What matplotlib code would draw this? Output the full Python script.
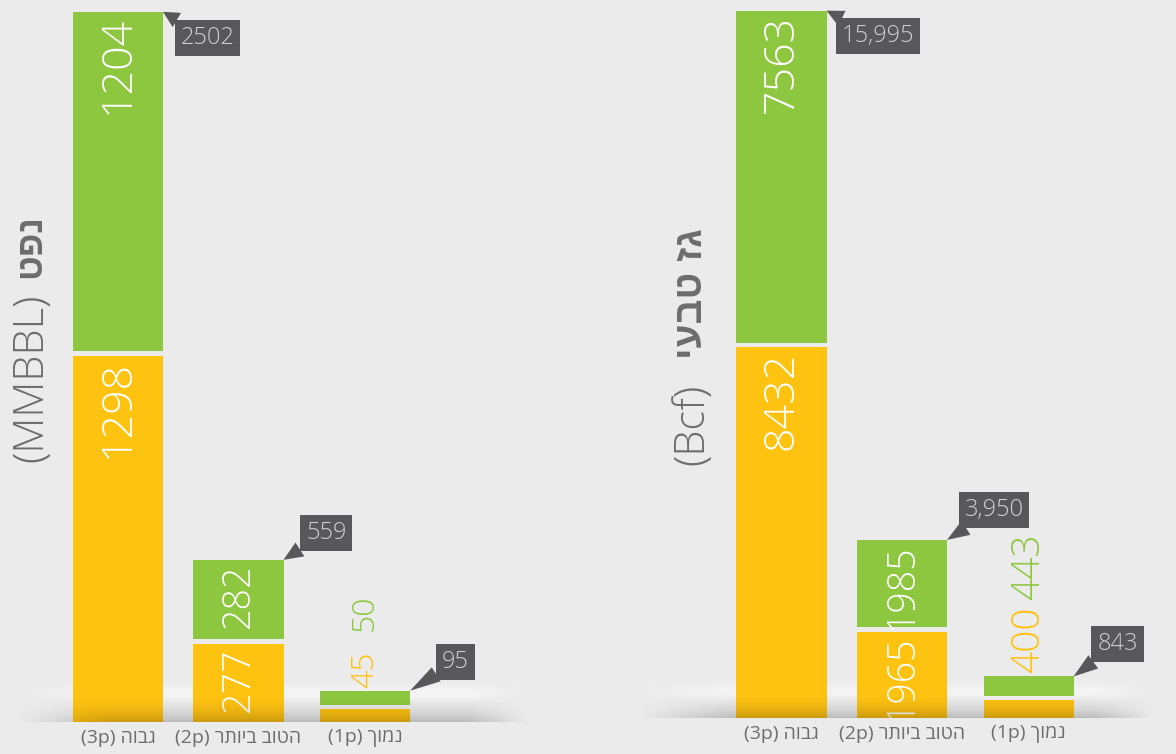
import numpy as np
import matplotlib
matplotlib.use('Agg')
import matplotlib.pyplot as plt

# data
tiers_he = ['גבוה', 'הטוב ביותר', 'נמוך']
tiers_tag = ['(3p)', '(2p)', '(1p)']

oil_orange = [1298, 277, 45]
oil_green = [1204, 282, 50]
oil_total = [2502, 559, 95]

gas_orange = [8432, 1965, 400]
gas_green = [7563, 1985, 443]
gas_total = [15995, 3950, 843]

oil_label = ('(MMBBL)', 'נפט')
gas_label = ('(Bcf)', 'גז טבעי')

# style / layout
W, H = 1176, 754
PT = 0.72
BG = '#ebebeb'
ORANGE = '#fec211'
GREEN = '#8dc63f'
BOX = '#58585a'
GREY = '#6d6d6d'
NUM = dict(family=['Open Sans', 'DejaVu Sans'], weight='light')
HEB = ['Liberation Sans', 'DejaVu Sans']
xpos = np.array([0, 1, 2.05])
bar_w = 0.747
unit = 120.5


def visual(tag, heb):
    # matplotlib has no bidi, so hebrew goes in visual order
    return tag + ' ' + heb[::-1]


def make_axes(center0, xlim, base_px):
    left = center0 + xlim[0] * unit
    right = center0 + xlim[1] * unit
    ax = fig.add_axes([left / W, (H - base_px) / H, (right - left) / W, base_px / H])
    ax.set_facecolor('none')
    for s in ax.spines.values():
        s.set_visible(False)
    ax.set_yticks([])
    return ax


def floor_shade(ax, band_px):
    x0, x1 = ax.get_xlim()
    y0, y1 = ax.get_ylim()
    top = band_px * (y1 - y0) / ax.bbox.height
    n, m = 60, 300
    t = np.linspace(0, 1, n)[:, None]
    u = np.linspace(0, 1, m)[None, :]
    fade = np.clip(u / 0.18, 0, 1) * np.clip((1 - u) / 0.12, 0, 1)
    # light strip behind the bars
    lite = np.ones((n, m, 4))
    lite[..., 3] = np.clip(1 - np.abs(t - 0.3) / 0.3, 0, 1) * 0.55 * fade
    ax.imshow(lite, extent=[x0, x1, 0, top], aspect='auto', zorder=1,
              interpolation='bilinear')
    # dark floor shadow on top of everything
    dark = np.zeros((n, m, 4))
    dark[..., 3] = np.clip((t - 0.35) / 0.65, 0, 1) ** 1.8 * 0.2 * fade
    ax.imshow(dark, extent=[x0, x1, 0, top], aspect='auto', zorder=3.5,
              interpolation='bilinear')
    ax.set_xlim(x0, x1)
    ax.set_ylim(y0, y1)


def draw_panel(ax, orange, green, totals, texts, offsets, small_fs, green_lift, band_px):
    per_px = ax.get_ylim()[1] / ax.bbox.height
    gap = 4.5 * per_px
    orange = np.array(orange)
    green = np.array(green)
    ax.bar(xpos, orange, width=bar_w, color=ORANGE, zorder=2)
    ax.bar(xpos, green, width=bar_w, bottom=orange + gap, color=GREEN, zorder=2)
    floor_shade(ax, band_px)
    for i, x in enumerate(xpos):
        o, g = orange[i], green[i]
        top = o + g + gap
        if g / per_px > 40:
            fs = 31 if g / per_px > 200 else 27
            ax.annotate(str(o), (x, o), xytext=(0, -4 * PT), textcoords='offset points',
                        rotation=90, ha='center', va='top', color='white',
                        fontsize=fs, zorder=3, clip_on=True, **NUM)
            ax.annotate(str(g), (x, top), xytext=(0, -4 * PT), textcoords='offset points',
                        rotation=90, ha='center', va='top', color='white',
                        fontsize=fs, zorder=3, clip_on=True, **NUM)
        else:
            ax.annotate(str(o), (x, top), xytext=(0, 3 * PT), textcoords='offset points',
                        rotation=90, ha='center', va='bottom', color=ORANGE,
                        fontsize=small_fs, zorder=5, **NUM)
            ax.annotate(str(g), (x, top), xytext=(0, green_lift * PT), textcoords='offset points',
                        rotation=90, ha='center', va='bottom', color=GREEN,
                        fontsize=small_fs, zorder=5, **NUM)
        dx, dy = offsets[i]
        ax.annotate(texts[i], (x + bar_w / 2, top), xytext=(dx * PT, dy * PT),
                    textcoords='offset points', ha='center', va='center',
                    fontsize=17, color='#cfcfcf', zorder=6,
                    bbox=dict(boxstyle='square,pad=0.25', fc=BOX, ec='none'),
                    arrowprops=dict(arrowstyle='wedge,tail_width=0.7', fc=BOX, ec='none',
                                    shrinkA=0, shrinkB=0),
                    **NUM)
    ax.set_xticks(xpos)
    ax.set_xticklabels([visual(a, b) for a, b in zip(tiers_tag, tiers_he)],
                       fontsize=14, color=GREY, family=['Open Sans'] + HEB)
    ax.tick_params(axis='x', length=0, pad=5)


fig = plt.figure(figsize=(W / 100, H / 100), dpi=100, facecolor=BG)

ax1 = make_axes(118, (-0.85, 3.4), 722)
ax1.set_xlim(-0.85, 3.4)
ax1.set_ylim(0, 2560)
draw_panel(ax1, oil_orange, oil_green, oil_total, [str(v) for v in oil_total],
           [(44.5, -26), (42.5, 27), (45.5, 28.5)], 23, 60, 42)

ax2 = make_axes(781.5, (-1.2, 3.1), 718)
ax2.set_xlim(-1.2, 3.1)
ax2.set_ylim(0, 16340)
draw_panel(ax2, gas_orange, gas_green, gas_total, [f'{v:,}' for v in gas_total],
           [(51.5, -25.5), (47, 30), (44, 32.5)], 28, 76, 39)

# y labels (latin part light, hebrew part bold)
fig.text(31 / W, 1 - 462 / H, oil_label[0], rotation=90, ha='center', va='bottom',
         fontsize=30, color=GREY, **NUM)
fig.text(31 / W, 1 - 214 / H, oil_label[1][::-1], rotation=90, ha='center', va='top',
         fontsize=26, color=GREY, weight='bold', family=HEB)
fig.text(692 / W, 1 - 465 / H, gas_label[0], rotation=90, ha='center', va='bottom',
         fontsize=30, color=GREY, **NUM)
fig.text(692 / W, 1 - 228 / H, gas_label[1][::-1], rotation=90, ha='center', va='top',
         fontsize=28, color=GREY, weight='bold', family=HEB)

fig.savefig('out.png', dpi=100, facecolor=BG)
